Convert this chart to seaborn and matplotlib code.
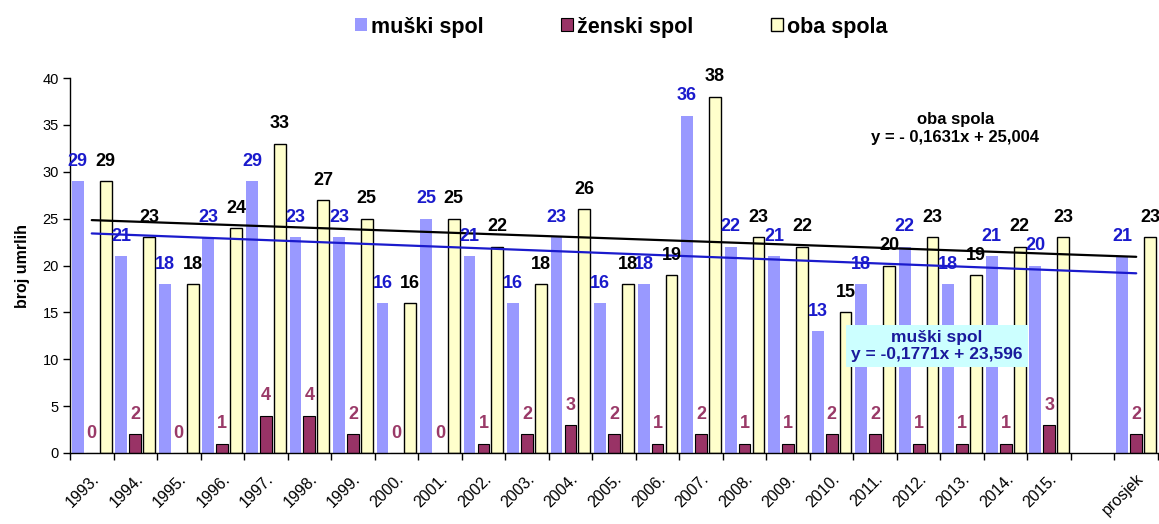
import numpy as np
import pandas as pd
import matplotlib
matplotlib.use("Agg")
import matplotlib.pyplot as plt
import seaborn as sns

# ---- data ----
years = ["1993.", "1994.", "1995.", "1996.", "1997.", "1998.", "1999.", "2000.",
         "2001.", "2002.", "2003.", "2004.", "2005.", "2006.", "2007.", "2008.",
         "2009.", "2010.", "2011.", "2012.", "2013.", "2014.", "2015."]
gap_label = " "
avg_label = "prosjek"
categories = years + [gap_label, avg_label]
data_categories = years + [avg_label]

muski = [29, 21, 18, 23, 29, 23, 23, 16, 25, 21, 16, 23, 16, 18, 36, 22, 21, 13,
         18, 22, 18, 21, 20, 21]
zenski = [0, 2, 0, 1, 4, 4, 2, 0, 0, 1, 2, 3, 2, 1, 2, 1, 1, 2, 2, 1, 1, 1, 3, 2]
oba = [29, 23, 18, 24, 33, 27, 25, 16, 25, 22, 18, 26, 18, 19, 38, 23, 22, 15,
       20, 23, 19, 22, 23, 23]

series_names = ["muški spol", "ženski spol", "oba spola"]

# trend lines (as printed on chart)
trend_oba = (-0.1631, 25.004)
trend_muski = (-0.1771, 23.596)
eq_oba = "oba spola\ny = - 0,1631x + 25,004"
eq_muski = "muški spol\ny = -0,1771x + 23,596"

ylabel = "broj umrlih"

# ---- style ----
c_m = "#9999FF"
c_z = "#993366"
c_o = "#FFFFCC"
lab_m = "#1a1acc"
lab_z = "#9a3a68"

sns.set_style("white")
plt.rcParams["font.family"] = ["Liberation Sans", "DejaVu Sans"]
plt.rcParams["text.color"] = "black"
plt.rcParams["axes.labelcolor"] = "black"
plt.rcParams["xtick.color"] = "black"
plt.rcParams["ytick.color"] = "black"

df = pd.DataFrame({
    "kat": data_categories * 3,
    "serija": [series_names[0]] * len(muski) + [series_names[1]] * len(zenski)
              + [series_names[2]] * len(oba),
    "broj": muski + zenski + oba,
})

fig = plt.figure(figsize=(11.59, 5.24), dpi=100)
ax = fig.add_axes([70 / 1159, 1 - 453 / 524, (1158 - 70) / 1159, (453 - 78) / 524])

sns.barplot(data=df, x="kat", y="broj", hue="serija", order=categories,
            hue_order=series_names, palette=[c_m, c_z, c_o], width=0.96,
            gap=0.15, saturation=1, ax=ax, errorbar=None)

edge = [("none", 0), ("black", 0.8), ("black", 1.0)]
lab_colors = [lab_m, lab_z, "black"]
for cont, (ec, lw), lc in zip(ax.containers, edge, lab_colors):
    for bar in cont:
        bar.set_edgecolor(ec)
        bar.set_linewidth(lw)
        h = bar.get_height()
        ax.annotate(f"{int(round(h))}", (bar.get_x() + bar.get_width() / 2, h),
                    xytext=(0, 11), textcoords="offset points", ha="center",
                    va="baseline", fontsize=13, fontweight="bold", color=lc,
                    zorder=6)

# trend lines across all 25 slots
pos = np.arange(len(categories))
xv = pos + 1
ax.plot(pos, trend_oba[0] * xv + trend_oba[1], color="black", lw=1.6, zorder=4)
ax.plot(pos, trend_muski[0] * xv + trend_muski[1], color="#1a1acc", lw=1.6, zorder=4)

ax.text(19.84, 34.6, eq_oba, ha="center", va="center", fontsize=12,
        fontweight="bold", color="black", linespacing=1.2, zorder=7)
ax.text(19.42, 11.4, eq_muski, ha="center", va="center", fontsize=12.5,
        fontweight="bold", color="#1a1a9c", linespacing=1.15, zorder=7,
        bbox=dict(boxstyle="square,pad=0.3", facecolor="#CCFFFF", edgecolor="none"))

# axes
ax.set_xlim(-0.5, len(categories) - 0.5)
ax.set_ylim(0, 40)
ax.set_yticks(range(0, 41, 5))
ax.tick_params(axis="y", direction="out", length=5, width=1, labelsize=10.5, pad=3,
               left=True, colors="black")
ax.set_xticks(pos)
ax.set_xticklabels(categories, rotation=45, ha="right", rotation_mode="anchor",
                   fontsize=11.5)
ax.tick_params(axis="x", which="major", length=0, pad=13, colors="black")
ax.set_xticks(np.arange(-0.5, len(categories), 1), minor=True)
ax.tick_params(axis="x", which="minor", direction="out", length=5, width=1,
               bottom=True, colors="black")
ax.set_xlabel("")
ax.set_ylabel(ylabel, fontsize=11.5, fontweight="bold", labelpad=9, color="black")
for s in ["top", "right"]:
    ax.spines[s].set_visible(False)
for s in ["left", "bottom"]:
    ax.spines[s].set_color("black")
    ax.spines[s].set_linewidth(1)

# legend at top
leg = ax.get_legend()
handles = list(leg.legend_handles)
labels = [t.get_text() for t in leg.texts]
leg.remove()
for hnd, (ec, lw) in zip(handles, edge):
    hnd.set_edgecolor(ec if ec != "none" else "none")
    hnd.set_linewidth(lw)
fl = fig.legend(handles, labels, loc="center", bbox_to_anchor=(0.536, 1 - 27 / 524),
                ncol=3, frameon=False, handlelength=0.55,
                handleheight=0.55, handletextpad=0.2, columnspacing=3.6,
                prop={"weight": "bold", "size": 15.5})
for t in fl.get_texts():
    t.set_color("black")

fig.savefig("out.png", dpi=100)
